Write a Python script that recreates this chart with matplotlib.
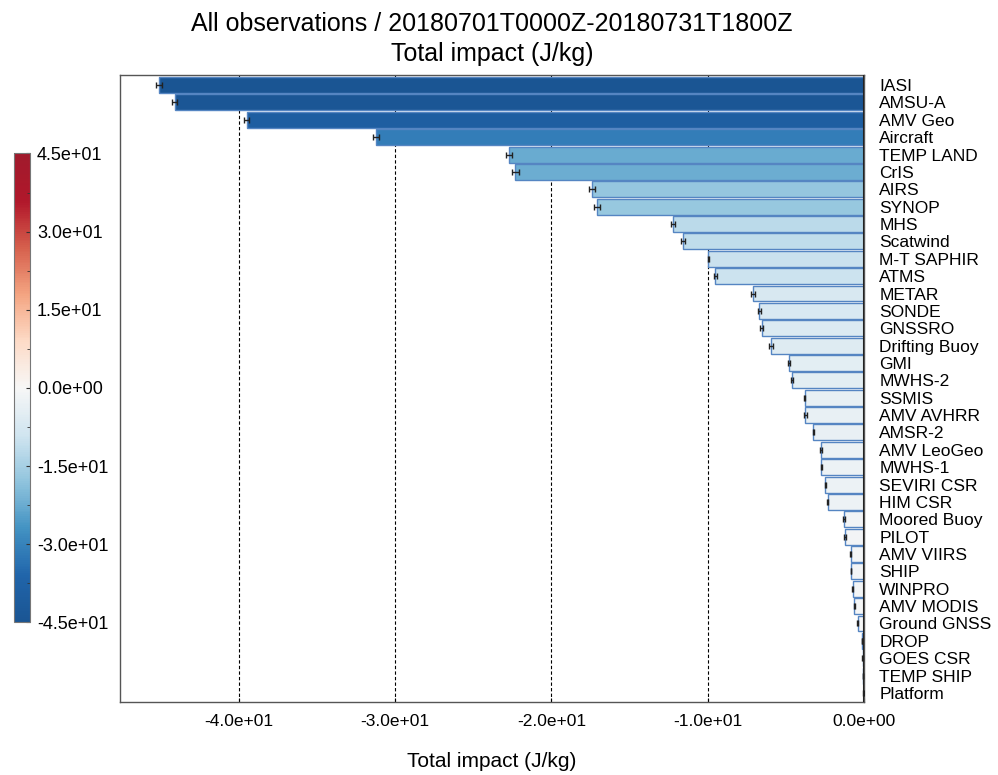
import numpy as np
import matplotlib
matplotlib.use('Agg')
import matplotlib.pyplot as plt
from matplotlib.colors import LinearSegmentedColormap, Normalize
from matplotlib.ticker import FormatStrFormatter, MultipleLocator

plt.rcParams['font.family'] = ['Liberation Sans', 'DejaVu Sans']

obs_types = ['IASI', 'AMSU-A', 'AMV Geo', 'Aircraft', 'TEMP LAND', 'CrIS', 'AIRS',
             'SYNOP', 'MHS', 'Scatwind', 'M-T SAPHIR', 'ATMS', 'METAR', 'SONDE',
             'GNSSRO', 'Drifting Buoy', 'GMI', 'MWHS-2', 'SSMIS', 'AMV AVHRR',
             'AMSR-2', 'AMV LeoGeo', 'MWHS-1', 'SEVIRI CSR', 'HIM CSR',
             'Moored Buoy', 'PILOT', 'AMV VIIRS', 'SHIP', 'WINPRO', 'AMV MODIS',
             'Ground GNSS', 'DROP', 'GOES CSR', 'TEMP SHIP', 'Platform']
impact = [-45.1, -44.1, -39.5, -31.2, -22.7, -22.3, -17.4, -17.1, -12.2, -11.6,
          -9.95, -9.5, -7.1, -6.7, -6.55, -5.95, -4.8, -4.6, -3.8, -3.75,
          -3.25, -2.75, -2.72, -2.48, -2.33, -1.28, -1.22, -0.85, -0.83, -0.73,
          -0.62, -0.4, -0.12, -0.08, -0.05, -0.02]
err = [0.18, 0.18, 0.16, 0.2, 0.2, 0.2, 0.18, 0.2, 0.12, 0.12,
       0.05, 0.1, 0.1, 0.1, 0.12, 0.12, 0.05, 0.05, 0.05, 0.08,
       0.03, 0.05, 0.05, 0.03, 0.03, 0.04, 0.04, 0.03, 0.03, 0.03,
       0.03, 0.03, 0.02, 0.02, 0.01, 0.01]

# RdBu_r in the middle, with softer ends
base = plt.get_cmap('RdBu_r')
stops = [(0.0, '#1a5593')]
stops += [(p, base(p)) for p in np.linspace(0.1, 0.9, 33)]
stops += [(1.0, '#a01a2c')]
cmap = LinearSegmentedColormap.from_list('rdbu_soft', stops)
norm = Normalize(vmin=-45, vmax=45)

fig = plt.figure(figsize=(9.98, 7.75), dpi=100)
ax = fig.add_axes([0.1202, 0.0942, 0.7455, 0.809])

y = np.arange(len(obs_types))
ax.barh(y, impact, height=0.92, color=cmap(norm(np.array(impact))),
        edgecolor='#5585c2', linewidth=1.0, zorder=2)
ax.errorbar(impact, y, xerr=err, fmt='none', ecolor='#222222',
            elinewidth=1.0, capsize=2.2, capthick=1.0, zorder=3)
ax.axvline(0, color='#222222', lw=1.5, zorder=4)

ax.set_xlim(-47.6, 0)
ax.set_ylim(len(obs_types) - 0.48, -0.58)
ax.set_xticks([-40, -30, -20, -10, 0])
ax.xaxis.set_major_formatter(FormatStrFormatter('%.1e'))
ax.grid(axis='x', color='black', linestyle=(0, (3, 2)), linewidth=0.8, zorder=0)
ax.set_axisbelow(True)

ax.yaxis.tick_right()
ax.set_yticks(y)
ax.set_yticklabels(obs_types, fontsize=12.5)
ax.tick_params(axis='y', length=0, pad=11)
ax.tick_params(axis='x', direction='in', length=3, pad=9, labelsize=12.5,
               top=True)
for s in ax.spines.values():
    s.set_color('#555555')
    s.set_linewidth(1.0)

ax.set_xlabel('Total impact (J/kg)', fontsize=15, labelpad=16)
ax.set_title('All observations / 20180701T0000Z-20180731T1800Z\nTotal impact (J/kg)',
             fontsize=18, pad=10, linespacing=1.3)

# colour scale on the left
cax = fig.add_axes([0.014, 0.197, 0.016, 0.605])
sm = plt.cm.ScalarMappable(norm=norm, cmap=cmap)
cb = fig.colorbar(sm, cax=cax, ticks=[-45, -30, -15, 0, 15, 30, 45])
cb.ax.yaxis.set_major_formatter(FormatStrFormatter('%.1e'))
cb.ax.yaxis.set_minor_locator(MultipleLocator(7.5))
cb.ax.tick_params(which='both', direction='in', labelsize=13, color='#333333', pad=5)
cb.ax.tick_params(which='major', length=3)
cb.ax.tick_params(which='minor', length=2)
cb.outline.set_edgecolor('#777777')

fig.savefig('out.png', dpi=100)
